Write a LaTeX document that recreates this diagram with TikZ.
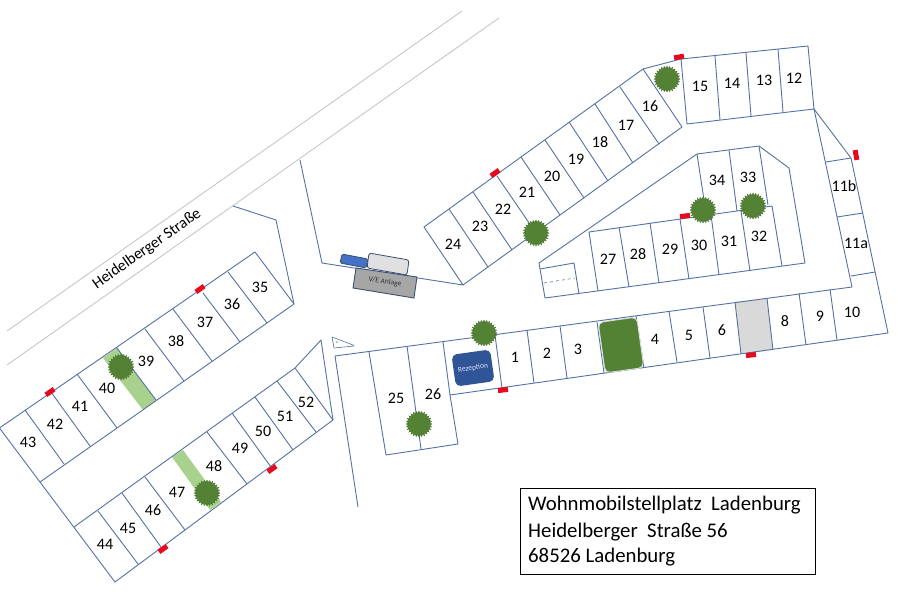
\documentclass[tikz,border=0pt]{standalone}
\usepackage{fontspec}
\setmainfont{Carlito}
\usepackage{xcolor}
\usetikzlibrary{shapes.geometric}
\definecolor{ColLine}{RGB}{84,113,163}
\definecolor{ColTree}{RGB}{84,130,53}
\definecolor{ColBand}{RGB}{169,209,142}
\definecolor{ColRed}{RGB}{230,10,30}
\definecolor{ColDark}{RGB}{60,80,115}
\definecolor{ColRez}{RGB}{47,85,151}
\definecolor{ColTap}{RGB}{68,114,196}
\tikzstyle{NodeLot}=[inner sep=0pt,font=\fontsize{16}{16}\selectfont]
\tikzstyle{NodeTree}=[star,star points=28,star point ratio=1.22,inner sep=0pt,minimum size=26pt,
fill=ColTree,draw=ColTree!85!black,line width=.3pt]
\tikzstyle{NodeMark}=[rectangle,fill=ColRed,inner sep=0pt,minimum width=10pt,minimum height=5pt]
\tikzstyle{NodeAddress}=[anchor=west,inner sep=0pt,font=\fontsize{20.8}{21}\selectfont]
\tikzstyle{EdgeLot}=[ColLine,line width=.9pt,line join=round]
\tikzstyle{EdgeRoad}=[black!22,line width=.9pt]

\begin{document}
\begin{tikzpicture}[x=1pt,y=-1pt]
    \useasboundingbox (0,0) rectangle (898,592);
    % road
    \draw[EdgeRoad](462,11)--(7,331);
    \draw[EdgeRoad](499,18)--(7,365);
    \node[inner sep=0pt,rotate=35,font=\fontsize{15.8}{16}\selectfont](road)at(147,249){Heidelberger Straße};
    % coloured areas below the lines
    \fill[ColBand](103,358)--(117,348)--(156,400)--(143,410)--cycle;
    \fill[ColBand](172,457)--(183,450)--(221,502)--(210,510)--cycle;
    \fill[black!15](735,302)--(767,298)--(773,350)--(741,354)--cycle;
    % left rows
    \draw[EdgeLot](-2,429)--(255,252)--(294,304)--(40,482);
    \draw[EdgeLot](-2,426)--(115,582)--(333,420)--(321,340)--(295,368)--(74,527);
    \draw[EdgeLot](295,368)--(333,420);
    \draw[EdgeLot](233,206)--(276,220)--(294,304);
    \draw[EdgeLot](25,410)--(64,464);
    \draw[EdgeLot](51,392)--(90,446);
    \draw[EdgeLot](77,374)--(117,428);
    \draw[EdgeLot](117,348)--(156,400);
    \draw[EdgeLot](145,329)--(184,381);
    \draw[EdgeLot](173,309)--(212,361);
    \draw[EdgeLot](203,293)--(240,342);
    \draw[EdgeLot](228,272)--(267,323);
    \draw[EdgeLot](98,511)--(138,564);
    \draw[EdgeLot](122,493)--(161,547);
    \draw[EdgeLot](145,477)--(185,530);
    \draw[EdgeLot](207,432)--(247,484);
    \draw[EdgeLot](232,413)--(271,467);
    \draw[EdgeLot](255,397)--(293,450);
    \draw[EdgeLot](277,381)--(316,432);
    % row 16 to 24
    \draw[EdgeLot](300,160)--(322,263)--(463,285)--(682,127)--(643,69)--(424,227)--(463,285);
    \draw[EdgeLot](643,69)--(681,59);
    \draw[EdgeLot](449,209)--(488,267);
    \draw[EdgeLot](473,192)--(512,250);
    \draw[EdgeLot](497,176)--(536,233);
    \draw[EdgeLot](521,157)--(560,215);
    \draw[EdgeLot](545,140)--(584,198);
    \draw[EdgeLot](569,122)--(608,181);
    \draw[EdgeLot](595,104)--(633,163);
    \draw[EdgeLot](620,87)--(659,144);
    % row 12 to 15
    \draw[EdgeLot](681,59)--(808,46)--(814,109)--(687,124)--cycle;
    \draw[EdgeLot](715,56)--(720,120);
    \draw[EdgeLot](746,53)--(751,116);
    \draw[EdgeLot](778,49)--(783,112);
    % row 1 to 11b
    \draw[EdgeLot](814,109)--(851,158)--(888,333)--(450,395)--(443,342);
    \draw[EdgeLot](814,109)--(852,287)--(335,356)--(358,507);
    \draw[EdgeLot](826,162)--(851,158);
    \draw[EdgeLot](837,217)--(863,213);
    \draw[EdgeLot](851,276)--(875,272);
    \draw[EdgeLot](830,289)--(837,340);
    \draw[EdgeLot](799,293)--(806,345);
    \draw[EdgeLot](767,298)--(773,350);
    \draw[EdgeLot](735,302)--(741,354);
    \draw[EdgeLot](703,307)--(710,358);
    \draw[EdgeLot](669,311)--(677,362);
    \draw[EdgeLot](636,316)--(644,368);
    \draw[EdgeLot](597,322)--(604,373);
    \draw[EdgeLot](560,326)--(567,378);
    \draw[EdgeLot](527,330)--(534,383);
    \draw[EdgeLot](495,335)--(502,388);
    % lots 25 and 26
    \draw[EdgeLot](369,352)--(386,455)--(458,444)--(450,395);
    \draw[EdgeLot](407,346)--(421,449);
    % island 27 to 34
    \draw[EdgeLot](539,263)--(697,154)--(759,146)--(789,168)--(805,263)--(545,298)--cycle;
    \draw[EdgeLot](540,269)--(574,263)--(579,294);
    \draw[EdgeLot,dashed,line width=.6pt](544,283)--(575,278);
    \draw[EdgeLot](598,291)--(589,232)--(772,206)--(782,266);
    \draw[EdgeLot](619,227)--(629,287);
    \draw[EdgeLot](650,223)--(659,283);
    \draw[EdgeLot](680,219)--(689,279);
    \draw[EdgeLot](711,215)--(719,275);
    \draw[EdgeLot](741,211)--(750,271);
    \draw[EdgeLot](697,154)--(704,200);
    \draw[EdgeLot](729,150)--(737,211);
    \draw[EdgeLot](759,146)--(768,205);
    % buildings
    \draw[ColDark,fill=ColTap,line width=.8pt,rounded corners=1.5pt](342,254)--(368,259)--(366,268)--(340,263)--cycle;
    \draw[ColDark,fill=black!12,line width=.8pt,rounded corners=2.5pt](369,253)--(409,260)--(407,275)--(367,268)--cycle;
    \draw[ColDark,fill=black!35,line width=.9pt](356,268)--(417,277)--(414,298)--(353,288)--cycle;
    \node[inner sep=0pt,rotate=-9,font=\fontsize{7.5}{8}\selectfont,black!80](ve)at(385,282){V/E Anlage};
    \node[rectangle,rounded corners=5pt,fill=ColRez,minimum width=39pt,minimum height=32pt,
    inner sep=0pt,rotate=8,text=blue!12,font=\fontsize{7.5}{8}\selectfont](rez)at(473,368){Rezeption};
    \node[rectangle,rounded corners=5pt,fill=ColTree,draw=black!12,line width=.9pt,minimum width=39pt,minimum height=51pt,
    inner sep=0pt,rotate=8](hedge)at(621,345){};
    \draw[EdgeLot,fill=white,line width=.6pt](332,337)--(353,345)--(354,346)--(334,348)--cycle;
    \node[inner sep=0pt,ColTree,font=\fontsize{7}{7}\selectfont](flag)at(337,344){*};
    % trees
    \node[NodeTree](t39)at(121,367){};
    \node[NodeTree](t47)at(207,493){};
    \node[NodeTree](t21)at(536,233){};
    \node[NodeTree](t16)at(667,79){};
    \node[NodeTree](t30)at(703,210){};
    \node[NodeTree](t33)at(753,206){};
    \node[NodeTree](t1)at(484,333){};
    \node[NodeTree](t25)at(419,424){};
    % red marks
    \node[NodeMark,rotate=35](m37)at(200,289){};
    \node[NodeMark,rotate=35](m42)at(50,392){};
    \node[NodeMark,rotate=35](m46)at(163,549){};
    \node[NodeMark,rotate=35](m50)at(272,469){};
    \node[NodeMark,rotate=35](m22)at(495,173){};
    \node[NodeMark,rotate=10](m15)at(679,57){};
    \node[NodeMark,rotate=-80](m11)at(856,155){};
    \node[NodeMark,rotate=7](m7)at(751,355){};
    \node[NodeMark,rotate=7](m1)at(503,390){};
    \node[NodeMark,rotate=7](m29)at(685,216){};
    % lot numbers
    \node[NodeLot](p1)at(515,357){1};
    \node[NodeLot](p2)at(547,353){2};
    \node[NodeLot](p3)at(578,349){3};
    \node[NodeLot](p4)at(655,339){4};
    \node[NodeLot](p5)at(689,335){5};
    \node[NodeLot](p6)at(722,330){6};
    \node[NodeLot](p8)at(785,321){8};
    \node[NodeLot](p9)at(820,316){9};
    \node[NodeLot](p10)at(852,312){10};
    \node[NodeLot](p11a)at(856,243){11a};
    \node[NodeLot](p11b)at(844,186){11b};
    \node[NodeLot](p12)at(794,78){12};
    \node[NodeLot](p13)at(764,80){13};
    \node[NodeLot](p14)at(732,83){14};
    \node[NodeLot](p15)at(700,86){15};
    \node[NodeLot](p16)at(650,106){16};
    \node[NodeLot](p17)at(626,125){17};
    \node[NodeLot](p18)at(600,142){18};
    \node[NodeLot](p19)at(576,159){19};
    \node[NodeLot](p20)at(552,176){20};
    \node[NodeLot](p21)at(527,192){21};
    \node[NodeLot](p22)at(503,209){22};
    \node[NodeLot](p23)at(480,226){23};
    \node[NodeLot](p24)at(453,244){24};
    \node[NodeLot](p25)at(396,398){25};
    \node[NodeLot](p26)at(433,394){26};
    \node[NodeLot](p27)at(608,259){27};
    \node[NodeLot](p28)at(638,254){28};
    \node[NodeLot](p29)at(670,249){29};
    \node[NodeLot](p30)at(699,245){30};
    \node[NodeLot](p31)at(729,241){31};
    \node[NodeLot](p32)at(759,236){32};
    \node[NodeLot](p33)at(748,177){33};
    \node[NodeLot](p34)at(717,180){34};
    \node[NodeLot](p35)at(260,287){35};
    \node[NodeLot](p36)at(232,304){36};
    \node[NodeLot](p37)at(205,322){37};
    \node[NodeLot](p38)at(176,341){38};
    \node[NodeLot](p39)at(146,361){39};
    \node[NodeLot](p40)at(107,388){40};
    \node[NodeLot](p41)at(80,406){41};
    \node[NodeLot](p42)at(55,424){42};
    \node[NodeLot](p43)at(28,442){43};
    \node[NodeLot](p44)at(105,544){44};
    \node[NodeLot](p45)at(128,528){45};
    \node[NodeLot](p46)at(153,510){46};
    \node[NodeLot](p47)at(177,492){47};
    \node[NodeLot](p48)at(214,466){48};
    \node[NodeLot](p49)at(240,448){49};
    \node[NodeLot](p50)at(263,431){50};
    \node[NodeLot](p51)at(285,416){51};
    \node[NodeLot](p52)at(306,402){52};
    % address
    \node[draw=black,line width=1pt,rectangle,anchor=north west,minimum width=295pt,minimum height=86pt,inner sep=0pt](box)at(520,488){};
    \node[NodeAddress](ad1)at(528,505.5){Wohnmobilstellplatz~ Ladenburg};
    \node[NodeAddress](ad2)at(528,532){Heidelberger~ Straße 56};
    \node[NodeAddress](ad3)at(528,557){68526 Ladenburg};
\end{tikzpicture}
\end{document}
